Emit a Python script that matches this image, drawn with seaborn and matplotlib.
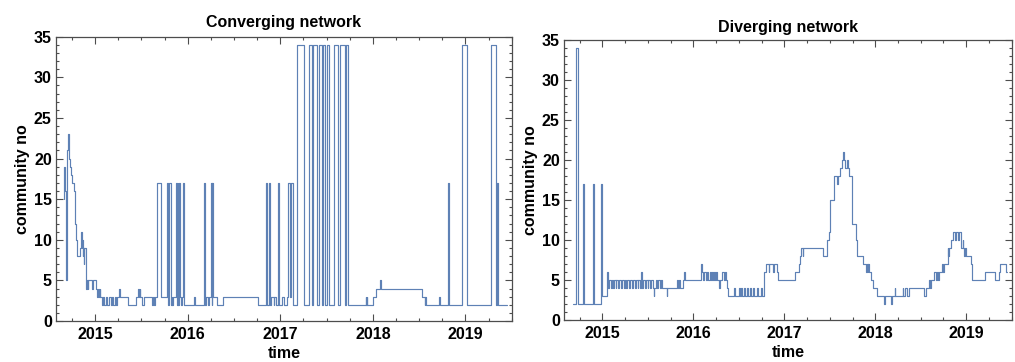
import numpy as np
import pandas as pd
import matplotlib
matplotlib.use("Agg")
import matplotlib.pyplot as plt
import seaborn as sns
from matplotlib.ticker import MultipleLocator

# ---------------- data (decimal year, community number from that time on) ----------------
conv_t = [2014.661, 2014.663, 2014.670, 2014.676, 2014.684, 2014.690, 2014.700, 2014.707, 2014.713, 2014.718,
          2014.722, 2014.730, 2014.740, 2014.752, 2014.770, 2014.778, 2014.786, 2014.794, 2014.802, 2014.808,
          2014.838, 2014.845, 2014.853, 2014.858, 2014.862, 2014.867, 2014.872, 2014.877, 2014.882, 2014.900,
          2014.910, 2014.918, 2014.925, 2014.962, 2014.976, 2015.005, 2015.020, 2015.027, 2015.038, 2015.049,
          2015.056, 2015.070, 2015.088, 2015.100, 2015.120, 2015.132, 2015.150, 2015.170, 2015.184, 2015.196,
          2015.214, 2015.226, 2015.236, 2015.262, 2015.270, 2015.352, 2015.440, 2015.468, 2015.474, 2015.480,
          2015.488, 2015.510, 2015.525, 2015.615, 2015.625, 2015.632, 2015.642, 2015.672, 2015.710, 2015.775,
          2015.790, 2015.800, 2015.818, 2015.826, 2015.835, 2015.845, 2015.878, 2015.885, 2015.890, 2015.900,
          2015.905, 2015.915, 2015.925, 2015.935, 2015.945, 2015.955, 2016.070, 2016.076, 2016.180, 2016.192,
          2016.200, 2016.215, 2016.232, 2016.252, 2016.258, 2016.265, 2016.278, 2016.315, 2016.378, 2016.755,
          2016.850, 2016.858, 2016.876, 2016.892, 2016.905, 2016.930, 2016.937, 2016.952, 2016.980, 2016.988,
          2017.020, 2017.040, 2017.075, 2017.088, 2017.100, 2017.118, 2017.134, 2017.180, 2017.260, 2017.314,
          2017.342, 2017.353, 2017.396, 2017.414, 2017.450, 2017.460, 2017.480, 2017.500, 2017.530, 2017.583,
          2017.619, 2017.641, 2017.703, 2017.713, 2017.727, 2017.921, 2017.928, 2017.935, 2017.942, 2017.998,
          2018.034, 2018.074, 2018.092, 2018.527, 2018.558, 2018.565, 2018.578, 2018.713, 2018.722, 2018.810,
          2018.821, 2018.960, 2019.021, 2019.278, 2019.329, 2019.345, 2019.357, 2019.448]
conv_v = [15, 19, 18, 16, 15, 5, 21, 23, 21, 22,
          20, 19, 18, 17, 16, 14, 12, 10, 9, 8,
          9, 11, 10, 9, 10, 8, 9, 7, 9, 4,
          5, 4, 5, 4, 5, 4, 3, 4, 3, 4,
          3, 2, 3, 2, 3, 2, 3, 2, 3, 2,
          3, 2, 3, 4, 3, 2, 3, 4, 3, 4,
          3, 2, 3, 2, 3, 2, 3, 17, 3, 17,
          2, 17, 2, 3, 2, 3, 17, 2, 17, 2,
          17, 3, 2, 3, 17, 2, 3, 2, 17, 2,
          3, 2, 3, 17, 2, 17, 3, 2, 3, 2,
          17, 2, 17, 2, 3, 2, 3, 2, 17, 2,
          3, 2, 3, 17, 3, 17, 2, 34, 2, 34,
          2, 34, 2, 34, 2, 34, 2, 34, 2, 34,
          2, 34, 2, 34, 2, 3, 2, 3, 2, 3,
          4, 5, 4, 3, 2, 3, 2, 3, 2, 17,
          2, 34, 2, 34, 2, 17, 2, 2]

div_t = [2014.671, 2014.707, 2014.733, 2014.788, 2014.799, 2014.901, 2014.912, 2014.982, 2014.993, 2015.055,
         2015.064, 2015.072, 2015.090, 2015.100, 2015.118, 2015.126, 2015.146, 2015.152, 2015.176, 2015.184,
         2015.204, 2015.214, 2015.236, 2015.244, 2015.262, 2015.272, 2015.296, 2015.304, 2015.326, 2015.336,
         2015.356, 2015.364, 2015.386, 2015.394, 2015.418, 2015.426, 2015.434, 2015.444, 2015.466, 2015.474,
         2015.496, 2015.506, 2015.528, 2015.536, 2015.552, 2015.562, 2015.572, 2015.584, 2015.604, 2015.614,
         2015.636, 2015.644, 2015.660, 2015.705, 2015.715, 2015.825, 2015.835, 2015.845, 2015.855, 2015.885,
         2015.895, 2015.903, 2016.078, 2016.085, 2016.092, 2016.100, 2016.120, 2016.135, 2016.145, 2016.165,
         2016.180, 2016.195, 2016.205, 2016.215, 2016.225, 2016.240, 2016.252, 2016.262, 2016.285, 2016.292,
         2016.315, 2016.340, 2016.352, 2016.358, 2016.368, 2016.378, 2016.450, 2016.460, 2016.500, 2016.510,
         2016.520, 2016.530, 2016.560, 2016.570, 2016.590, 2016.600, 2016.625, 2016.635, 2016.660, 2016.670,
         2016.700, 2016.710, 2016.740, 2016.750, 2016.778, 2016.800, 2016.830, 2016.836, 2016.880, 2016.886,
         2016.914, 2016.935, 2017.118, 2017.160, 2017.175, 2017.185, 2017.200, 2017.205, 2017.425, 2017.470,
         2017.490, 2017.497, 2017.505, 2017.545, 2017.580, 2017.590, 2017.615, 2017.635, 2017.645, 2017.660,
         2017.672, 2017.690, 2017.700, 2017.715, 2017.742, 2017.785, 2017.798, 2017.860, 2017.895, 2017.905,
         2017.915, 2017.925, 2017.935, 2017.950, 2017.970, 2018.015, 2018.100, 2018.110, 2018.175, 2018.185,
         2018.212, 2018.218, 2018.300, 2018.308, 2018.322, 2018.345, 2018.370, 2018.535, 2018.555, 2018.590,
         2018.600, 2018.610, 2018.650, 2018.665, 2018.675, 2018.690, 2018.700, 2018.735, 2018.745, 2018.752,
         2018.795, 2018.800, 2018.808, 2018.835, 2018.855, 2018.880, 2018.885, 2018.915, 2018.920, 2018.942,
         2018.962, 2018.968, 2018.980, 2018.985, 2018.995, 2019.055, 2019.062, 2019.205, 2019.315, 2019.360,
         2019.368, 2019.440, 2019.448]
div_v = [2, 34, 2, 17, 2, 17, 2, 17, 3, 6,
         4, 5, 4, 5, 4, 5, 4, 5, 4, 5,
         4, 5, 4, 5, 4, 5, 4, 5, 4, 5,
         4, 5, 4, 5, 4, 6, 4, 5, 4, 5,
         4, 5, 4, 5, 4, 3, 4, 5, 4, 5,
         4, 5, 4, 3, 4, 5, 4, 5, 4, 5,
         6, 5, 6, 7, 6, 5, 6, 5, 6, 5,
         6, 5, 6, 5, 6, 5, 6, 5, 4, 5,
         6, 5, 6, 5, 4, 3, 4, 3, 4, 3,
         4, 3, 4, 3, 4, 3, 4, 3, 4, 3,
         4, 3, 4, 3, 6, 7, 6, 7, 6, 7,
         6, 5, 6, 7, 8, 9, 8, 9, 8, 10,
         11, 13, 15, 18, 17, 18, 19, 20, 21, 20,
         19, 20, 19, 18, 12, 10, 8, 7, 6, 7,
         6, 7, 6, 5, 4, 3, 2, 3, 2, 3,
         4, 3, 4, 3, 4, 3, 4, 3, 4, 5,
         4, 5, 6, 5, 6, 5, 6, 7, 6, 7,
         9, 8, 9, 10, 11, 10, 11, 10, 11, 9,
         10, 9, 8, 9, 8, 7, 5, 6, 5, 6,
         7, 6, 6]

year_ticks = [2015, 2016, 2017, 2018, 2019]
year_labels = ["2015", "2016", "2017", "2018", "2019"]
titles = ["Converging network", "Diverging network"]

# ---------------- style ----------------
sns.set_theme(style="white")
plt.rcParams["font.family"] = ["Liberation Sans", "DejaVu Sans"]

LINE = "#5E81B5"
FRAME = "#4d4d4d"
FS = 11.5

fig = plt.figure(figsize=(10.15, 3.62), dpi=100)
W, H = 1015.0, 362.0
ax1 = fig.add_axes([56 / W, (H - 321) / H, 455.7 / W, 284.3 / H])
ax2 = fig.add_axes([564 / W, (H - 320) / H, 447.7 / W, 280 / H])

series = [(conv_t, conv_v), (div_t, div_v)]
for ax, (t, v), title, pad in zip([ax1, ax2], series, titles, [7, 6]):
    df = pd.DataFrame({"time": t, "community": v})
    sns.lineplot(data=df, x="time", y="community", ax=ax, color=LINE, linewidth=0.85,
                 drawstyle="steps-post", estimator=None, sort=False, errorbar=None)
    ax.set_xlim(2014.577, 2019.50)
    ax.set_ylim(0, 35)
    ax.set_xticks(year_ticks)
    ax.set_xticklabels(year_labels)
    ax.xaxis.set_minor_locator(MultipleLocator(0.25))
    ax.yaxis.set_major_locator(MultipleLocator(5))
    ax.yaxis.set_minor_locator(MultipleLocator(1))
    ax.tick_params(which="both", direction="in", top=True, right=True, bottom=True, left=True,
                   color=FRAME, width=0.8)
    ax.tick_params(which="major", length=5, labelsize=FS, labelcolor="black")
    ax.tick_params(axis="x", which="major", pad=4)
    ax.tick_params(axis="y", which="major", pad=3)
    ax.tick_params(which="minor", length=2.5)
    for lab in ax.get_xticklabels() + ax.get_yticklabels():
        lab.set_fontweight("bold")
    for sp in ax.spines.values():
        sp.set_color(FRAME)
        sp.set_linewidth(0.9)
    ax.set_title(title, fontsize=FS, fontweight="bold", pad=pad, color="black")
    ax.set_xlabel("time", fontsize=FS, fontweight="bold", labelpad=3, color="black")
    ax.set_ylabel("community no", fontsize=FS, fontweight="bold", labelpad=3, color="black")
    ax.grid(False)

fig.savefig("out.png", dpi=100)
